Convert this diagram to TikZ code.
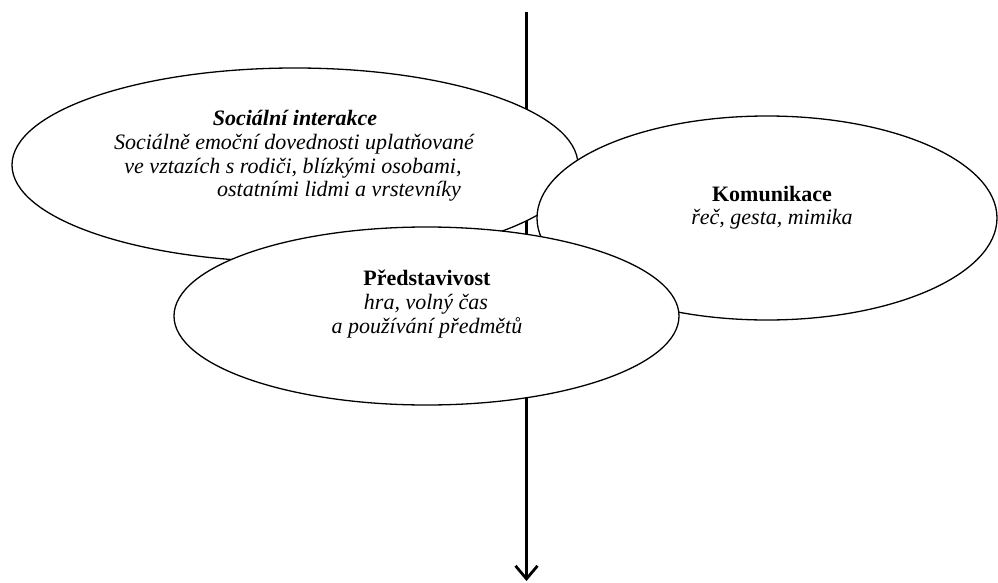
\documentclass[tikz,border=0pt]{standalone}
\usepackage{fontspec}
\setmainfont{Liberation Serif}
\usetikzlibrary{shapes.geometric,arrows.meta}
\begin{document}
\begin{tikzpicture}[x=1pt,y=-1pt,
  ell/.style={ellipse,draw=black,fill=white,line width=1.3pt,inner sep=0pt},
  txt/.style={anchor=base,inner sep=0pt,font=\fontsize{22}{26}\selectfont},
  ttl/.style={txt,font=\fontsize{22}{26}\selectfont\bfseries},
  sub/.style={txt,font=\fontsize{22}{26}\selectfont\itshape},
  axisarrow/.style={line width=2.8pt,-{Straight Barb[length=13pt,width=22pt]}}]
\useasboundingbox (0,0) rectangle (998,583);
% vertical axis
\coordinate (atop) at (526.5,12);
\coordinate (abot) at (526.5,581);
\draw[axisarrow] (atop) -- (abot);
% ellipses
\node[ell,minimum width=566pt,minimum height=194pt] (soc) at (295,165) {};
\node[ell,minimum width=460pt,minimum height=204pt] (kom) at (767,218) {};
\node[ell,minimum width=505pt,minimum height=178pt] (pred) at (426.5,316) {};
% texts
\node[ttl,font=\fontsize{22}{26}\selectfont\bfseries\itshape] (s1) at (295,126) {Sociální interakce};
\node[sub] (s2) at (294,149.5) {Sociálně emoční dovednosti uplatňované};
\node[sub] (s3) at (293,173) {ve vztazích s rodiči, blízkými osobami,};
\node[sub] (s4) at (339,196.5) {ostatními lidmi a vrstevníky};
\node[ttl] (k1) at (772,201) {Komunikace};
\node[sub] (k2) at (772,224.5) {řeč, gesta, mimika};
\node[ttl] (p1) at (427,285) {Představivost};
\node[sub] (p2) at (426,309) {hra, volný čas};
\node[sub] (p3) at (427,333) {a používání předmětů};
\end{tikzpicture}
\end{document}
